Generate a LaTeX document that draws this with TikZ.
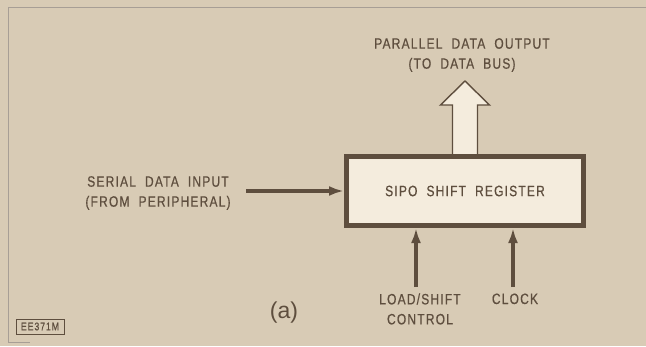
\documentclass[tikz,border=0pt]{standalone}
\usepackage{fontspec}
\usepackage{xcolor}
\usetikzlibrary{arrows.meta,positioning}
\newfontfamily\lblfont[FakeStretch=0.8,LetterSpace=8,WordSpace=2,FakeBold=0.6]{Liberation Sans}
\newfontfamily\capfont{Liberation Sans}
\definecolor{paper}{HTML}{D8CBB5}
\definecolor{ink}{HTML}{5E4E3E}
\definecolor{cream}{HTML}{F4ECDD}

\begin{document}
\begin{tikzpicture}[
  x=1pt,y=1pt,
  every node/.style={font=\lblfont\fontsize{15}{20}\selectfont,text=ink,align=center},
  reg/.style={rectangle,draw=ink,fill=cream,line width=5pt,minimum width=237pt,minimum height=69pt},
  line/.style={draw=ink,line width=3.5pt,-{Latex[length=15pt,width=10pt]}},
  bus/.style={draw=ink,fill=cream,line width=1.4pt,line join=miter},
  figtag/.style={draw=ink,line width=1pt,font=\lblfont\fontsize{11}{12}\selectfont,minimum width=48pt,minimum height=15pt,inner sep=1pt}]
\fill[paper] (0,0) rectangle (646,346);
\useasboundingbox (0,0) rectangle (646,346);
\draw[ink!55,line width=0.8pt] (646,339) -| (8,4) -- (30,4);
\node[reg] (sipo) at (465,155) {SIPO SHIFT REGISTER};
\node (serial) at (158,153) {SERIAL DATA INPUT\\(FROM PERIPHERAL)};
\node (parallel) at (462,291) {PARALLEL DATA OUTPUT\\(TO DATA BUS)};
\node (load) at (420,37) {LOAD/SHIFT\\CONTROL};
\node[anchor=base] (clock) at (515,42) {CLOCK};
\node[font=\capfont\fontsize{23}{24}\selectfont] (panel) at (284,33) {(a)};
\node[figtag] (fig) at (40,19.5) {EE371M};
\coordinate (serialtail) at (246,155);
\coordinate (loadtail) at (416,59);
\coordinate (clocktail) at (513,59);
% hollow bus arrow on top of the register
\draw[bus] ([xshift=-12.5pt]sipo.north) -- ++(0,49) -- ++(-12,0) -- ++(24.5,24) -- ++(24.5,-24) -- ++(-12,0) -- ++(0,-49);
\draw[line] (serialtail) -- (sipo.west);
\draw[line] (loadtail) -- (loadtail |- sipo.south);
\draw[line] (clocktail) -- (clocktail |- sipo.south);
\end{tikzpicture}
\end{document}
